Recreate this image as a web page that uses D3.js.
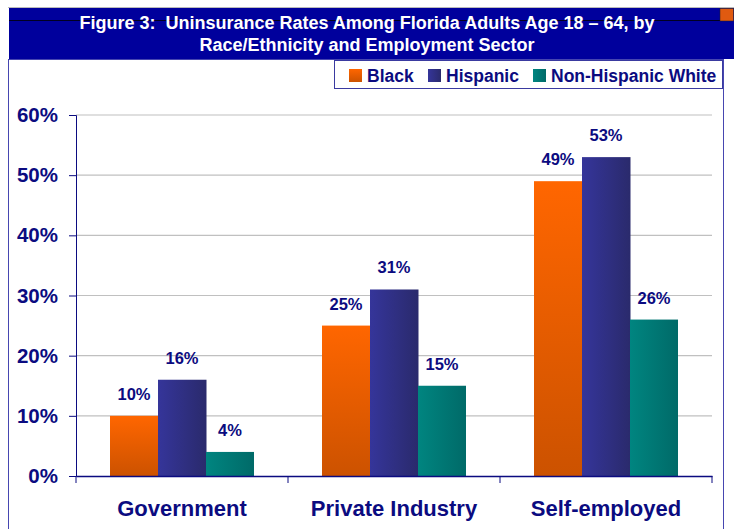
<!DOCTYPE html>
<html>
<head>
<meta charset="utf-8">
<script src="https://cdn.jsdelivr.net/npm/d3@7"></script>
<style>
  body { margin: 0; background: #fff; }
  text { font-family: Arial, "Liberation Sans", sans-serif; font-weight: bold; }
</style>
</head>
<body>
<div id="chart"></div>
<script>
// data
var sectors = ["Government", "Private Industry", "Self-employed"];
var groups = ["Black", "Hispanic", "Non-Hispanic White"];
var black = [10, 25, 49];
var hispanic = [16, 31, 53];
var nhWhite = [4, 15, 26];
var yTicks = [0, 10, 20, 30, 40, 50, 60];

var svgWidth = 740;
var svgHeight = 529;

var margin = { top: 115, left: 76, right: 28, bottom: 53 };
var width = svgWidth - margin.left - margin.right;   // 636
var height = svgHeight - margin.top - margin.bottom; // 361

var navy = "#0b0b80";

var svg = d3.select("#chart").append("svg")
  .attr("width", svgWidth)
  .attr("height", svgHeight);

// gradients
var defs = svg.append("defs");
function addGrad(id, vertical, c1, c2) {
  var g = defs.append("linearGradient").attr("id", id)
    .attr("x1", 0).attr("y1", 0)
    .attr("x2", vertical ? 0 : 1).attr("y2", vertical ? 1 : 0);
  g.append("stop").attr("offset", "0%").attr("stop-color", c1);
  g.append("stop").attr("offset", "100%").attr("stop-color", c2);
}
addGrad("gBlack", true, "#ff6600", "#cc5200");
addGrad("gHisp", false, "#35359a", "#2a2a6c");
addGrad("gWhite", false, "#008580", "#006a68");
var fills = ["url(#gBlack)", "url(#gHisp)", "url(#gWhite)"];

// frame
svg.append("rect")
  .attr("x", 8.5).attr("y", 59.5)
  .attr("width", 715).attr("height", 480)
  .attr("fill", "#fff")
  .attr("stroke", "#4646b0");

// title banner
svg.append("line")
  .attr("x1", 8).attr("x2", 734).attr("y1", 7.5).attr("y2", 7.5)
  .attr("stroke", "#bbbbbb");
svg.append("rect")
  .attr("x", 9).attr("y", 8)
  .attr("width", 725).attr("height", 51)
  .attr("fill", "#00009c");
svg.append("line")
  .attr("x1", 9).attr("x2", 720).attr("y1", 20.5).attr("y2", 20.5)
  .attr("stroke", "#000022").attr("stroke-width", 1);
svg.append("rect")
  .attr("x", 720).attr("y", 8.5)
  .attr("width", 13.5).attr("height", 12.5)
  .attr("fill", "#e05a10")
  .attr("stroke", "#222")
  .attr("stroke-width", 0.5);

var titleLines = ["Figure 3:  Uninsurance Rates Among Florida Adults Age 18 \u2013 64, by",
  "Race/Ethnicity and Employment Sector"];
svg.selectAll(".title")
  .data(titleLines)
  .enter()
  .append("text")
  .attr("class", "title")
  .attr("x", 367)
  .attr("y", (d, i) => 29 + i * 22)
  .attr("text-anchor", "middle")
  .attr("fill", "#fff")
  .attr("font-size", "18px")
  .style("white-space", "pre")
  .text(d => d);

// legend
var legend = svg.append("g");
legend.append("rect")
  .attr("x", 334.5).attr("y", 60.5)
  .attr("width", 388).attr("height", 28)
  .attr("fill", "#fff")
  .attr("stroke", "#3a3aa0");
var legX = [349, 428, 533];
groups.forEach(function(g, i) {
  legend.append("rect")
    .attr("x", legX[i]).attr("y", 69)
    .attr("width", 13).attr("height", 13)
    .attr("fill", fills[i]);
  legend.append("text")
    .attr("x", legX[i] + 18).attr("y", 82)
    .attr("fill", navy)
    .attr("font-size", "17.5px")
    .text(g);
});

var chartGroup = svg.append("g")
  .attr("transform", `translate(${margin.left}, ${margin.top})`);

var xScale = d3.scaleBand()
  .domain(sectors)
  .range([0, width]);

var barW = 48;
var yScale = d3.scaleLinear()
  .domain([0, 60])
  .range([height, 0]);

// gridlines
chartGroup.selectAll(".grid")
  .data(yTicks.slice(1))
  .enter()
  .append("line")
  .attr("x1", 0).attr("x2", width)
  .attr("y1", d => yScale(d)).attr("y2", d => yScale(d))
  .attr("stroke", "#c0c0c0")
  .attr("stroke-width", 1.2);

// y axis
var leftAxis = d3.axisLeft(yScale)
  .tickValues(yTicks)
  .tickSize(7)
  .tickPadding(11)
  .tickFormat(d => d + "%");
var yAxis = chartGroup.append("g").call(leftAxis);
yAxis.select(".domain").attr("stroke", navy);
yAxis.selectAll(".tick line").attr("stroke", navy);
yAxis.selectAll("text")
  .attr("fill", navy)
  .attr("font-size", "20.5px")
  .attr("font-family", "Arial, 'Liberation Sans', sans-serif")
  .attr("font-weight", "bold");

// bars
var series = [black, hispanic, nhWhite];
series.forEach(function(vals, s) {
  var data = sectors.map((c, i) => ({ sector: c, value: vals[i] }));
  var off = (xScale.bandwidth() - barW * 3) / 2 + s * barW;

  chartGroup.selectAll(".bar" + s)
    .data(data)
    .enter()
    .append("rect")
    .attr("x", d => xScale(d.sector) + off)
    .attr("y", d => yScale(d.value))
    .attr("width", barW + (s < 2 ? 0.5 : 0))
    .attr("height", d => height - yScale(d.value))
    .attr("fill", fills[s]);

  chartGroup.selectAll(".lab" + s)
    .data(data)
    .enter()
    .append("text")
    .attr("x", d => xScale(d.sector) + off + barW / 2)
    .attr("y", d => yScale(d.value) - 16)
    .attr("text-anchor", "middle")
    .attr("fill", navy)
    .attr("font-size", "16.5px")
    .text(d => d.value + "%");
});

// x axis
var bottomAxis = d3.axisBottom(xScale).tickSize(0).tickPadding(0).tickFormat("");
var xAxis = chartGroup.append("g")
  .attr("transform", `translate(0, ${height})`)
  .call(bottomAxis);
xAxis.select(".domain").attr("stroke", navy).attr("stroke-width", 1.3);

// category separators
var sepX = sectors.map(c => xScale(c)).concat([width]);
chartGroup.selectAll(".sep")
  .data(sepX)
  .enter()
  .append("line")
  .attr("x1", d => d).attr("x2", d => d)
  .attr("y1", height).attr("y2", height + 7)
  .attr("stroke", navy);

chartGroup.selectAll(".cat")
  .data(sectors)
  .enter()
  .append("text")
  .attr("x", d => xScale(d) + xScale.bandwidth() / 2)
  .attr("y", height + 40)
  .attr("text-anchor", "middle")
  .attr("fill", navy)
  .attr("font-size", "22px")
  .text(d => d);
</script>
</body>
</html>
